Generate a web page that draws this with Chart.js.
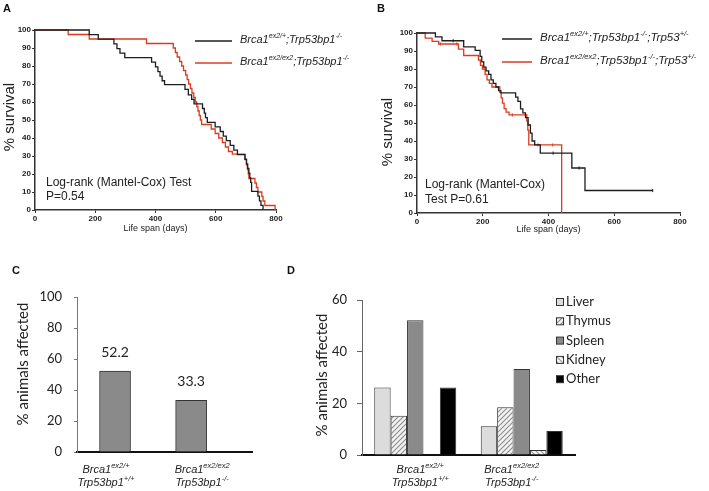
<!DOCTYPE html>
<html><head><meta charset="utf-8">
<script src="https://cdn.jsdelivr.net/npm/chart.js@4.4.1/dist/chart.umd.min.js"></script>
<style>
html,body{margin:0;padding:0;background:#fff;}
#wrap{position:relative;width:709px;height:491px;overflow:hidden;background:#fff;}
canvas{position:absolute;left:0;top:0;}
</style></head><body>
<div id="wrap">
<canvas id="cA" width="709" height="491"></canvas>
<canvas id="cB" width="709" height="491"></canvas>
<canvas id="cC" width="709" height="491"></canvas>
<canvas id="cD" width="709" height="491"></canvas>
</div>
<script>
// ---------- DATA ----------
// Panel A: Kaplan-Meier steps (day, % survival)
const aDaysBlack = [0,180,210,262,272,282,298,387,400,408,415,422,430,498,509,520,528,556,562,566,572,598,615,625,635,648,660,672,697,702,706,710,713,716,719,740,745,750,757];
const aSurvBlack = [100,97.4,94.9,92.3,89.7,87.2,84.6,82.1,79.5,76.9,74.4,71.8,69.7,67,64,61.5,59,56.4,53.8,51.3,48.7,46.2,43.6,41,38.5,35.9,33.3,30.8,28.2,25.6,23.1,20.5,17.9,15.4,10.3,7.7,5.1,2.6,0];
const aDaysRed = [0,110,180,370,459,466,472,480,487,493,500,505,510,516,521,527,532,537,541,545,549,553,585,598,610,622,632,642,655,697,702,705,708,710,730,735,740,753,757,763,797];
const aSurvRed = [100,97.5,95,92.5,90,87.5,85,82.5,80,77.5,75,72.5,70,67.5,65,62.5,60,57.5,55,52.5,50,47.5,45,42.5,40,37.5,35,32.5,31,28,25,22.5,20,17.5,15,12.5,10,7.5,5,2.5,0];
// Panel B
const bDaysBlack = [0,56,76,142,177,192,197,203,210,218,225,232,240,248,255,300,307,315,322,330,338,345,350,358,375,471,511,717];
const bSurvBlack = [100,97.8,95.7,92.3,90.4,87,84,81,79,77,74,72,70,68,66.7,64.4,62,57.8,55.6,53,48.9,44.4,40,37.8,33.3,25,12.5,12.5];
const bDaysRed = [0,25,46,66,126,142,187,193,199,207,213,220,228,252,256,260,265,271,280,334,337,340,440];
const bSurvRed = [100,97.1,95.4,93.9,91,87.5,85,82,80,77,74,72,70,67,64,61,58,56,54.5,51,46,37.8,0];
const bCensorDaysBlack = [110,414,493,717];
const bCensorSurvBlack = [95.7,33.3,25,12.5];
const bCensorDaysRed = [71,121,290,368,413];
const bCensorSurvRed = [93.9,93.9,54.5,37.8,37.8];
const kmTicksX = [0,200,400,600,800];

// Panels C & D
const genotypes = [
  {l1:[['Brca1',0],['ex2/+',1]], l2:[['Trp53bp1',0],['+/+',1]]},
  {l1:[['Brca1',0],['ex2/ex2',1]], l2:[['Trp53bp1',0],['-/-',1]]}
];
const cValues = [52.2, 33.3];
const dOrgans = ['Liver','Thymus','Spleen','Kidney','Other'];
const dLiver  = [26.1, 11.1];
const dThymus = [15.2, 18.5];
const dSpleen = [52.2, 33.3];
const dKidney = [0, 1.9];
const dOther  = [26.1, 9.3];

// Legends
const aLegend = [
  [['Brca1',0],['ex2/+',1],[';Trp53bp1',0],['-/-',1]],
  [['Brca1',0],['ex2/ex2',1],[';Trp53bp1',0],['-/-',1]]
];
const bLegend = [
  [['Brca1',0],['ex2/+',1],[';Trp53bp1',0],['-/-',1],[';Trp53',0],['+/-',1]],
  [['Brca1',0],['ex2/ex2',1],[';Trp53bp1',0],['-/-',1],[';Trp53',0],['+/-',1]]
];

// ---------- HELPERS ----------
const ARIAL = "'Liberation Sans', Arial, sans-serif";
const CAL = "Lato, 'Open Sans', sans-serif";
const BLACK = '#1e1e1e', RED = '#dc3b1f';

function richText(ctx, parts, x, y, o) {
  ctx.save();
  ctx.fillStyle = o.color || '#222';
  ctx.textBaseline = 'middle';
  ctx.textAlign = 'left';
  const fontOf = s => `${o.style||'normal'} ${o.weight||'normal'} ${s}px ${o.family}`;
  let w = 0;
  const ws = parts.map(([t, sup]) => { ctx.font = fontOf(sup ? o.sup : o.size); const m = ctx.measureText(t).width; w += m; return m; });
  let cx = o.align === 'center' ? x - w / 2 : x;
  parts.forEach(([t, sup], i) => {
    ctx.font = fontOf(sup ? o.sup : o.size);
    ctx.fillText(t, cx, sup ? y - o.size * 0.33 : y);
    cx += ws[i];
  });
  ctx.restore();
}
function text(ctx, t, x, y, font, color, align, rot) {
  ctx.save();
  ctx.font = font; ctx.fillStyle = color || '#222';
  ctx.textAlign = align || 'left'; ctx.textBaseline = 'middle';
  ctx.translate(x, y);
  if (rot) ctx.rotate(rot);
  ctx.fillText(t, 0, 0);
  ctx.restore();
}
function pts(xs, ys) { return xs.map((d, i) => ({x: d, y: ys[i]})); }
function hatch(dir, bg, fg) {
  const c = document.createElement('canvas'); c.width = 5; c.height = 5;
  const g = c.getContext('2d');
  g.fillStyle = bg; g.fillRect(0, 0, 5, 5);
  g.strokeStyle = fg; g.lineWidth = 1.1;
  g.beginPath();
  if (dir > 0) { g.moveTo(0, 5); g.lineTo(5, 0); g.moveTo(-1, 1); g.lineTo(1, -1); g.moveTo(4, 6); g.lineTo(6, 4); }
  else { g.moveTo(0, 0); g.lineTo(5, 5); g.moveTo(4, -1); g.lineTo(6, 1); g.moveTo(-1, 4); g.lineTo(1, 6); }
  g.stroke();
  return g.createPattern(c, 'repeat');
}

function kmScales() {
  const tickFont = {family: ARIAL, size: 8, weight: 'bold'};
  const grid = {drawOnChartArea: false, drawTicks: true, tickLength: 3, color: '#333', lineWidth: 1};
  const border = {display: true, color: '#333', width: 1.5};
  return {
    x: {type: 'linear', min: 0, max: 800,
        afterBuildTicks: s => { s.ticks = kmTicksX.map(v => ({value: v})); },
        ticks: {font: tickFont, color: '#222', padding: 1, maxRotation: 0, autoSkip: false},
        grid, border, afterFit(s) { s.height = 20; }},
    y: {type: 'linear', min: 0, max: 100,
        ticks: {stepSize: 10, font: tickFont, color: '#222', padding: 1},
        grid, border, afterFit(s) { s.width = 30; }}
  };
}
function kmLine(data, color) {
  return {data, borderColor: color, backgroundColor: color, borderWidth: 1.3, stepped: 'before',
          pointRadius: 0, tension: 0, fill: false, clip: 4};
}
function censor(data, color) {
  return {data, showLine: false, borderColor: color, backgroundColor: color, pointStyle: 'line',
          rotation: 90, pointRadius: 1.6, borderWidth: 1, clip: 4};
}
const common = {responsive: false, animation: false, devicePixelRatio: 1, events: [],
  plugins: {legend: {display: false}, tooltip: {enabled: false}}};

// ---------- PANEL A ----------
new Chart(document.getElementById('cA'), {
  type: 'line',
  data: {datasets: [kmLine(pts(aDaysBlack, aSurvBlack), BLACK), kmLine(pts(aDaysRed, aSurvRed), RED)]},
  options: Object.assign({}, common, {
    layout: {padding: {left: 5, top: 30, right: 433, bottom: 261}},
    scales: kmScales()
  }),
  plugins: [{id: 'extraA', afterDraw(chart) {
    const ctx = chart.ctx, ca = chart.chartArea;
    text(ctx, 'A', 3, 9, `bold 11px ${ARIAL}`, '#111');
    text(ctx, '% survival', 10, (ca.top + ca.bottom) / 2 - 3, `15px ${ARIAL}`, '#222', 'center', -Math.PI / 2);
    text(ctx, 'Life span (days)', (ca.left + ca.right) / 2, 229, `9px ${ARIAL}`, '#222', 'center');
    text(ctx, 'Log-rank (Mantel-Cox) Test', 46, 183, `12px ${ARIAL}`, '#222');
    text(ctx, 'P=0.54', 46, 197, `12px ${ARIAL}`, '#222');
    [[BLACK, 41], [RED, 63]].forEach(([c, y], i) => {
      ctx.save(); ctx.strokeStyle = c; ctx.lineWidth = 1.5;
      ctx.beginPath(); ctx.moveTo(195, y); ctx.lineTo(232, y); ctx.stroke(); ctx.restore();
      richText(ctx, aLegend[i], 240, y - 1, {size: 11, sup: 7, family: ARIAL, style: 'italic', color: '#222'});
    });
  }}]
});

// ---------- PANEL B ----------
new Chart(document.getElementById('cB'), {
  type: 'line',
  data: {datasets: [kmLine(pts(bDaysBlack, bSurvBlack), BLACK), kmLine(pts(bDaysRed, bSurvRed), RED),
                    censor(pts(bCensorDaysBlack, bCensorSurvBlack), BLACK), censor(pts(bCensorDaysRed, bCensorSurvRed), RED)]},
  options: Object.assign({}, common, {
    layout: {padding: {left: 387, top: 33, right: 29, bottom: 258}},
    scales: kmScales()
  }),
  plugins: [{id: 'extraB', afterDraw(chart) {
    const ctx = chart.ctx, ca = chart.chartArea;
    text(ctx, 'B', 377, 9, `bold 11px ${ARIAL}`, '#111');
    text(ctx, '% survival', 388, 132, `15px ${ARIAL}`, '#222', 'center', -Math.PI / 2);
    text(ctx, 'Life span (days)', (ca.left + ca.right) / 2, 230, `9px ${ARIAL}`, '#222', 'center');
    text(ctx, 'Log-rank (Mantel-Cox)', 425, 185, `12px ${ARIAL}`, '#222');
    text(ctx, 'Test P=0.61', 425, 200, `12px ${ARIAL}`, '#222');
    [[BLACK, 39], [RED, 62]].forEach(([c, y], i) => {
      ctx.save(); ctx.strokeStyle = c; ctx.lineWidth = 1.5;
      ctx.beginPath(); ctx.moveTo(502, y); ctx.lineTo(532, y); ctx.stroke(); ctx.restore();
      richText(ctx, bLegend[i], 540, y - 1, {size: 11.5, sup: 7.5, family: ARIAL, style: 'italic', color: '#222'});
    });
  }}]
});

// ---------- PANEL C ----------
const calTick = {family: CAL, size: 13};
new Chart(document.getElementById('cC'), {
  type: 'bar',
  data: {datasets: [{data: cValues.map((v, i) => ({x: i + 1, y: v})), backgroundColor: '#8a8a8a',
                     borderColor: '#333', borderWidth: 1, barThickness: 31}]},
  options: Object.assign({}, common, {
    layout: {padding: {left: 37, top: 297, right: 457, bottom: 29}},
    scales: {
      x: {type: 'linear', min: 0.5, max: 2.8, offset: false, ticks: {display: false}, grid: {display: false},
          border: {display: true, color: '#111', width: 2}, afterFit(s) { s.height = 10; }},
      y: {min: 0, max: 100, ticks: {stepSize: 20, font: calTick, color: '#222', padding: 12},
          grid: {drawOnChartArea: false, tickLength: 3, color: '#777'},
          border: {display: true, color: '#777', width: 1}, afterFit(s) { s.width = 40; }}
    }
  }),
  plugins: [{id: 'extraC', afterDraw(chart) {
    const ctx = chart.ctx, ca = chart.chartArea;
    text(ctx, 'C', 12, 271, `bold 11px ${ARIAL}`, '#111');
    text(ctx, '% animals affected', 23, 364, `15px ${CAL}`, '#222', 'center', -Math.PI / 2);
    const meta = chart.getDatasetMeta(0);
    const shift = [-9, 11];
    meta.data.forEach((b, i) => {
      text(ctx, cValues[i].toFixed(1), b.x, b.y - 19, `14px ${CAL}`, '#222', 'center');
      richText(ctx, genotypes[i].l1, b.x + shift[i], 470, {size: 11, sup: 7.5, family: ARIAL, style: 'italic', align: 'center'});
      richText(ctx, genotypes[i].l2, b.x + shift[i], 483, {size: 11, sup: 7.5, family: ARIAL, style: 'italic', align: 'center'});
    });
  }}]
});

// ---------- PANEL D ----------
const dFills = ['#dcdcdc', hatch(1, '#f2f2f2', '#8c8c8c'), '#8a8a8a', hatch(-1, '#f4f4f4', '#9a9a9a'), '#000000'];
const dSeries = [dLiver, dThymus, dSpleen, dKidney, dOther];
new Chart(document.getElementById('cD'), {
  type: 'bar',
  data: {labels: genotypes.map((g, i) => 'g' + i),
         datasets: dSeries.map((s, i) => ({label: dOrgans[i], data: s, backgroundColor: dFills[i],
           borderColor: '#333', borderWidth: 1, categoryPercentage: 0.77, barPercentage: 1.0}))},
  options: Object.assign({}, common, {
    layout: {padding: {left: 322, top: 300, right: 134, bottom: 26}},
    scales: {
      x: {ticks: {display: false}, grid: {display: false},
          border: {display: true, color: '#111', width: 2}, afterFit(s) { s.height = 10; }},
      y: {min: 0, max: 60, ticks: {stepSize: 20, font: calTick, color: '#222', padding: 10},
          grid: {drawOnChartArea: false, tickLength: 5, color: '#666'},
          border: {display: true, color: '#666', width: 1}, afterFit(s) { s.width = 40; }}
    }
  }),
  plugins: [{id: 'extraD', afterDraw(chart) {
    const ctx = chart.ctx;
    text(ctx, 'D', 287, 271, `bold 11px ${ARIAL}`, '#111');
    text(ctx, '% animals affected', 322, 375, `15px ${CAL}`, '#222', 'center', -Math.PI / 2);
    const xs = chart.scales.x;
    const shift = [5, -10];
    genotypes.forEach((g, i) => {
      const cx = xs.getPixelForValue(i) + shift[i];
      richText(ctx, g.l1, cx, 470, {size: 11, sup: 7.5, family: ARIAL, style: 'italic', align: 'center'});
      richText(ctx, g.l2, cx, 483, {size: 11, sup: 7.5, family: ARIAL, style: 'italic', align: 'center'});
    });
    dOrgans.forEach((name, i) => {
      const y = 302 + i * 19.3;
      ctx.save();
      ctx.fillStyle = dFills[i]; ctx.fillRect(556.5, y - 3.5, 7, 7);
      ctx.strokeStyle = '#333'; ctx.lineWidth = 1; ctx.strokeRect(556.5, y - 3.5, 7, 7);
      ctx.restore();
      text(ctx, name, 566, y, `13px ${CAL}`, '#222');
    });
  }}]
});
</script>
</body></html>
